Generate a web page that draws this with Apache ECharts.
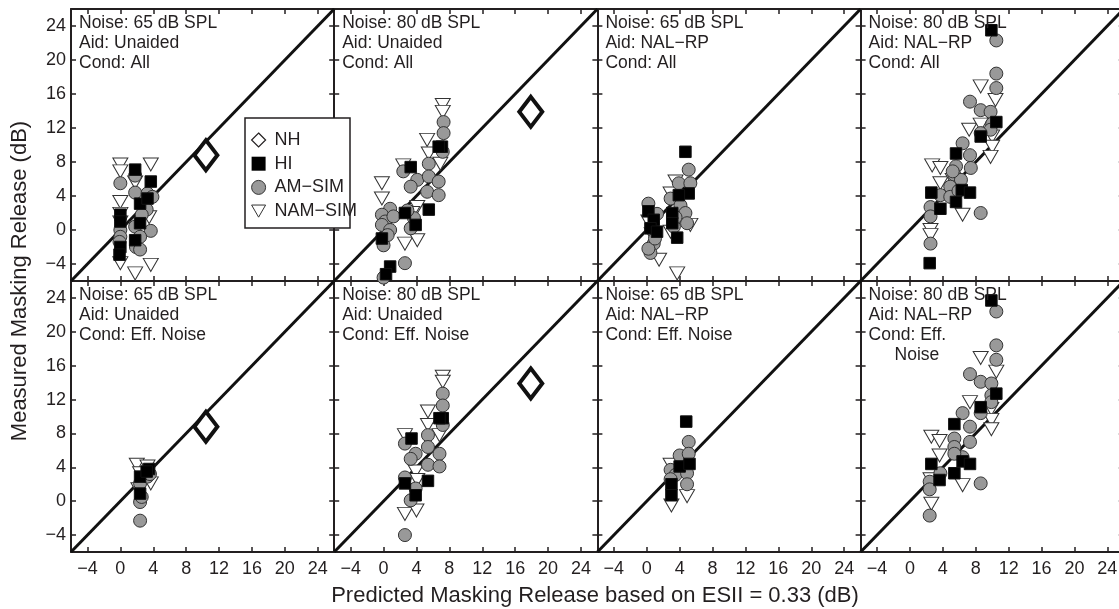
<!DOCTYPE html>
<html><head><meta charset="utf-8">
<script src="https://cdn.jsdelivr.net/npm/echarts@6/dist/echarts.min.js"></script>
<style>html,body{margin:0;padding:0;background:#fff}#c{width:1119px;height:609px}</style>
</head><body><div id="c"></div>
<script>
// ---- data ----
const tickValues = [-4, 0, 4, 8, 12, 16, 20, 24];
const axisMin = -6, axisMax = 26;
const diagonal = [[-6, -6], [26, 26]];
const legendNames = ['NH', 'HI', 'AM\u2212SIM', 'NAM\u2212SIM'];
const xTitle = 'Predicted Masking Release based on ESII = 0.33 (dB)';
const yTitle = 'Measured Masking Release (dB)';
const panelNoise = ['Noise: 65 dB SPL', 'Noise: 80 dB SPL', 'Noise: 65 dB SPL', 'Noise: 80 dB SPL',
                    'Noise: 65 dB SPL', 'Noise: 80 dB SPL', 'Noise: 65 dB SPL', 'Noise: 80 dB SPL'];
const panelAid = ['Aid: Unaided', 'Aid: Unaided', 'Aid: NAL\u2212RP', 'Aid: NAL\u2212RP',
                  'Aid: Unaided', 'Aid: Unaided', 'Aid: NAL\u2212RP', 'Aid: NAL\u2212RP'];
const panelCond = ['Cond: All', 'Cond: All', 'Cond: All', 'Cond: All',
                   'Cond: Eff. Noise', 'Cond: Eff. Noise', 'Cond: Eff. Noise', 'Cond: Eff.'];
const panelCondExtra = ['', '', '', '', '', '', '', 'Noise'];

// panel 1: 65 dB, Unaided, All
const p1NH = [[10.4, 8.8]];
const p1HI = [[1.8,7.1],[3.7,5.7],[0,1.8],[0,1.0],[2.4,3.1],[3.3,3.7],[2.4,0.8],[1.8,-1.2],[0,-2.0],[-0.1,-2.9]];
const p1AM = [[0,5.5],[1.8,6.4],[1.8,4.4],[3.3,4.3],[3.9,3.9],[2.8,2.9],[1.8,0.4],[3.7,-0.1],[2.4,-0.8],[1.9,-2.0],[2.4,-2.3],[0,0],[0,-0.8],[-0.1,-1.4],[3.2,2.4],[2.6,1.8]];
const p1NAM = [[0,7.7],[0,6.9],[3.7,7.7],[1.8,5.6],[0,3.3],[0,1.9],[0,0.9],[3.5,1.5],[0,-3.9],[1.8,-5.1],[3.7,-4.1],[2.0,0.2]];
// panel 2: 80 dB, Unaided, All
const p2NH = [[17.9, 13.9]];
const p2HI = [[7.1,9.8],[6.7,9.8],[3.3,7.4],[5.5,2.4],[2.6,2.0],[3.9,0.6],[-0.2,-1.0],[0.8,-4.3],[0.3,-5.2]];
const p2AM = [[7.3,12.7],[7.3,11.4],[7.2,9.2],[5.5,7.8],[2.4,6.9],[4.1,5.9],[3.3,5.1],[5.5,6.3],[6.7,5.7],[5.3,4.5],[6.7,4.1],[0.8,2.5],[-0.2,1.8],[0.2,1.0],[-0.2,0.6],[0.8,0],[0,-1.8],[3.3,0.2],[2.6,-3.9],[3.7,1.4],[1.2,1.6],[0.5,-0.6],[2.9,2.3],[0,-5.6]];
const p2NAM = [[7.2,14.7],[7.2,13.9],[5.3,10.6],[5.5,9.0],[2.4,7.6],[-0.2,5.5],[-0.2,3.7],[4.1,2.7],[2.6,-1.6],[4.1,-1.2],[6.9,7.8],[3.5,2.0]];
// panel 3: 65 dB, NAL-RP, All
const p3HI = [[4.7,9.2],[5.1,4.3],[3.9,4.1],[0.2,2.2],[0.85,1.2],[0.45,0.2],[1.25,-0.2],[3.1,2.0],[3.1,0.8],[3.7,-0.9]];
const p3AM = [[5.1,7.1],[3.9,5.5],[5.3,5.5],[2.9,3.7],[4.1,2.9],[4.7,2.0],[0.2,3.1],[1.25,1.9],[0.85,-1.6],[0.45,-2.7],[0.2,-2.2],[4.9,0.8],[3.3,0.4],[1.0,-1.0],[3.5,1.5]];
const p3NAM = [[3.5,5.7],[2.9,4.3],[5.3,0.6],[1.5,-3.5],[3.7,-5.1],[0.2,1.0],[2.9,-0.2],[0.6,-0.5]];
// panel 4: 80 dB, NAL-RP, All
const p4HI = [[9.9,23.5],[10.5,12.7],[8.6,11.0],[5.6,9.0],[2.6,4.4],[3.7,2.5],[6.3,4.7],[7.3,4.4],[5.6,3.3],[2.4,-3.9]];
const p4AM = [[10.5,22.3],[10.5,18.4],[10.5,16.7],[7.3,15.1],[8.6,14.1],[9.8,13.9],[10.0,12.5],[9.8,11.8],[8.6,11.4],[6.4,10.2],[7.3,8.8],[5.6,7.5],[7.4,7.3],[5.4,6.5],[6.2,5.9],[4.9,5.1],[3.7,4.1],[2.5,2.7],[2.5,1.6],[8.6,2.0],[2.5,-1.6],[4.9,3.9],[5.9,4.6],[5.2,6.9]];
const p4NAM = [[8.6,16.9],[10.4,15.3],[7.2,11.8],[10.0,11.0],[10,9.8],[9.8,8.6],[2.7,7.6],[3.7,7.3],[3.7,5.5],[6.4,1.8],[2.5,0.0],[2.5,-0.6],[5.2,5.9],[8.6,12.4]];
// panel 5: 65 dB, Unaided, Eff. Noise
const p5NH = [[10.4, 8.8]];
const p5HI = [[2.4,2.9],[3.5,3.8],[2.4,0.9],[3.2,3.5]];
const p5AM = [[2.4,-2.3],[2.4,-0.1],[2.4,2.1],[3.3,2.9],[2.6,0.5],[3.6,3.2]];
const p5NAM = [[2.0,4.3],[3.3,4.1],[2.4,3.3],[3.7,2.1],[2.2,1.4]];
// panel 6: 80 dB, Unaided, Eff. Noise
const p6NH = [[17.9, 13.9]];
const p6HI = [[7.2,9.8],[6.8,9.8],[3.4,7.4],[5.4,2.4],[2.6,2.1],[3.9,0.7]];
const p6AM = [[7.2,12.7],[7.2,11.3],[7.2,9.0],[5.4,7.8],[2.6,6.8],[3.9,5.6],[3.3,5.0],[5.4,6.4],[6.8,5.6],[5.4,4.3],[6.8,4.1],[2.6,2.8],[3.3,0.1],[3.9,1.5],[2.6,-4.0]];
const p6NAM = [[7.2,14.7],[7.2,14.1],[5.4,10.6],[5.4,9.0],[2.6,7.8],[6.8,7.8],[3.9,3.5],[4.1,2.5],[2.6,-1.5],[4.0,-1.1]];
// panel 7: 65 dB, NAL-RP, Eff. Noise
const p7HI = [[4.8,9.4],[4.0,4.1],[5.2,4.4],[3.0,2.0],[3.0,0.7]];
const p7AM = [[5.1,7.0],[4.0,5.4],[5.1,5.6],[2.9,3.7],[3.5,3.1],[4.9,3.3],[4.9,2.0],[2.9,2.6]];
const p7NAM = [[2.9,4.3],[4.9,0.6],[3.0,-0.5],[3.2,2.9]];
// panel 8: 80 dB, NAL-RP, Eff. Noise
const p8HI = [[9.9,23.7],[10.5,12.7],[8.6,11.1],[5.4,9.1],[2.6,4.4],[3.6,2.5],[6.4,4.7],[7.3,4.4],[5.4,3.3]];
const p8AM = [[10.5,22.4],[10.5,18.4],[10.5,16.7],[7.3,15.0],[8.6,14.1],[9.9,13.9],[9.9,12.5],[8.6,10.4],[6.4,10.4],[7.3,8.8],[5.4,7.4],[7.3,7.0],[5.4,6.4],[6.4,5.2],[2.4,2.3],[2.4,1.4],[8.6,2.1],[2.4,-1.7],[3.7,3.3],[5.4,5.6],[9.9,11.7]];
const p8NAM = [[8.6,16.9],[10.5,15.3],[7.3,11.7],[9.9,10.9],[9.9,9.6],[9.9,8.5],[2.6,7.6],[3.6,7.1],[3.6,5.4],[6.4,1.9],[2.6,-0.3],[2.5,2.6]];

const panels = [
  {NH: p1NH, HI: p1HI, AM: p1AM, NAM: p1NAM},
  {NH: p2NH, HI: p2HI, AM: p2AM, NAM: p2NAM},
  {NH: [],   HI: p3HI, AM: p3AM, NAM: p3NAM},
  {NH: [],   HI: p4HI, AM: p4AM, NAM: p4NAM},
  {NH: p5NH, HI: p5HI, AM: p5AM, NAM: p5NAM},
  {NH: p6NH, HI: p6HI, AM: p6AM, NAM: p6NAM},
  {NH: [],   HI: p7HI, AM: p7AM, NAM: p7NAM},
  {NH: [],   HI: p8HI, AM: p8AM, NAM: p8NAM}
];

// ---- layout / style ----
const FONT = '"Liberation Sans", Arial, Helvetica, sans-serif';
const INK = '#231f20';
const colLeft = [71, 334.2, 597.4, 860.6];
const colWidth = 263.2;
const rowTop = [9, 281];
const rowHeight = [272, 271];
const triPath = 'path://M0,0 L12,0 L6,10.4 Z';
const fmt = v => (v < 0 ? '\u2212' + Math.abs(v) : String(v));

const grids = [], xAxes = [], yAxes = [], series = [], graphics = [];

panels.forEach((p, i) => {
  const col = i % 4, row = Math.floor(i / 4);
  grids.push({left: colLeft[col], top: rowTop[row], width: colWidth, height: rowHeight[row],
    show: false, containLabel: false, outerBoundsMode: 'none'});
  const tick = {show: true, inside: true, length: 5, customValues: tickValues,
    lineStyle: {color: INK, width: 1.5}};
  const baseAx = {type: 'value', gridIndex: i, min: axisMin, max: axisMax,
    axisLine: {show: true, onZero: false, lineStyle: {color: INK, width: 2}},
    splitLine: {show: false}, axisTick: tick};
  xAxes.push(Object.assign({}, baseAx, {position: 'bottom',
    axisLabel: {show: row === 1, customValues: tickValues, formatter: fmt, fontSize: 18, color: INK, fontFamily: FONT, margin: 8}}));
  xAxes.push(Object.assign({}, baseAx, {position: 'top', axisLabel: {show: false}}));
  yAxes.push(Object.assign({}, baseAx, {position: 'left',
    axisLabel: {show: col === 0, customValues: tickValues, formatter: fmt, fontSize: 18, color: INK, fontFamily: FONT, margin: 5}}));
  yAxes.push(Object.assign({}, baseAx, {position: 'right', axisLabel: {show: false}}));

  const ax = {xAxisIndex: 2 * i, yAxisIndex: 2 * i};
  series.push(Object.assign({type: 'line', data: diagonal, symbol: 'none', silent: true, z: 2,
    lineStyle: {color: '#111', width: 3}}, ax));
  series.push(Object.assign({type: 'scatter', name: legendNames[3], data: p.NAM, symbol: triPath,
    symbolSize: [15, 13], z: 3, itemStyle: {color: '#fff', borderColor: '#333', borderWidth: 1, opacity: 1}}, ax));
  series.push(Object.assign({type: 'scatter', name: legendNames[2], data: p.AM, symbol: 'circle',
    symbolSize: 13, z: 4, itemStyle: {color: '#999', borderColor: '#333', borderWidth: 1, opacity: 1}}, ax));
  series.push(Object.assign({type: 'scatter', name: legendNames[1], data: p.HI, symbol: 'rect',
    symbolSize: 11.5, z: 5, itemStyle: {color: '#000', borderColor: '#111', borderWidth: 1, opacity: 1}}, ax));
  series.push(Object.assign({type: 'scatter', name: legendNames[0], data: p.NH, symbol: 'diamond',
    symbolSize: [23, 30], z: 6, itemStyle: {color: '#fff', borderColor: '#111', borderWidth: 4, opacity: 1}}, ax));

  const tx = colLeft[col] + 8, ty = rowTop[row] + 4;
  graphics.push({type: 'text', x: tx, y: ty, z: 20, style: {
    text: panelNoise[i] + '\n' + panelAid[i] + '\n' + panelCond[i],
    font: '17.5px ' + FONT, lineHeight: 20, fill: INK, verticalAlign: 'top'}});
  if (panelCondExtra[i]) {
    graphics.push({type: 'text', x: tx + 26, y: ty + 60, z: 20, style: {
      text: panelCondExtra[i], font: '17.5px ' + FONT, lineHeight: 20, fill: INK, verticalAlign: 'top'}});
  }
});

// legend frame
graphics.push({type: 'rect', shape: {x: 245, y: 118, width: 105, height: 110}, z: 30,
  style: {fill: '#fff', stroke: INK, lineWidth: 1.5}});
// axis titles
graphics.push({type: 'text', x: 595, y: 596, z: 20, style: {text: xTitle, font: '22px ' + FONT,
  fill: INK, align: 'center', verticalAlign: 'middle'}});
graphics.push({type: 'text', x: 20, y: 281, rotation: Math.PI / 2, z: 20, style: {text: yTitle, font: '22px ' + FONT,
  fill: INK, align: 'center', verticalAlign: 'middle'}});

const option = {
  animation: false,
  backgroundColor: '#fff',
  grid: grids, xAxis: xAxes, yAxis: yAxes, series: series,
  graphic: {elements: graphics},
  legend: {
    orient: 'vertical', left: 251, top: 131, itemWidth: 14, itemHeight: 14, itemGap: 5.7,
    padding: 0, selectedMode: false, z: 40, zlevel: 0,
    textStyle: {fontSize: 18, color: INK, fontFamily: FONT, padding: [0, 0, 0, 4]},
    data: [
      {name: legendNames[0], icon: 'diamond', itemStyle: {color: '#fff', borderColor: INK, borderWidth: 1.2}},
      {name: legendNames[1], icon: 'rect', itemStyle: {color: '#000', borderColor: '#000', borderWidth: 0}},
      {name: legendNames[2], icon: 'circle', itemStyle: {color: '#999', borderColor: '#333', borderWidth: 1}},
      {name: legendNames[3], icon: triPath, itemStyle: {color: '#fff', borderColor: '#333', borderWidth: 1}}
    ]
  }
};
echarts.init(document.getElementById('c'), null, {renderer: 'canvas'}).setOption(option);
</script></body></html>
